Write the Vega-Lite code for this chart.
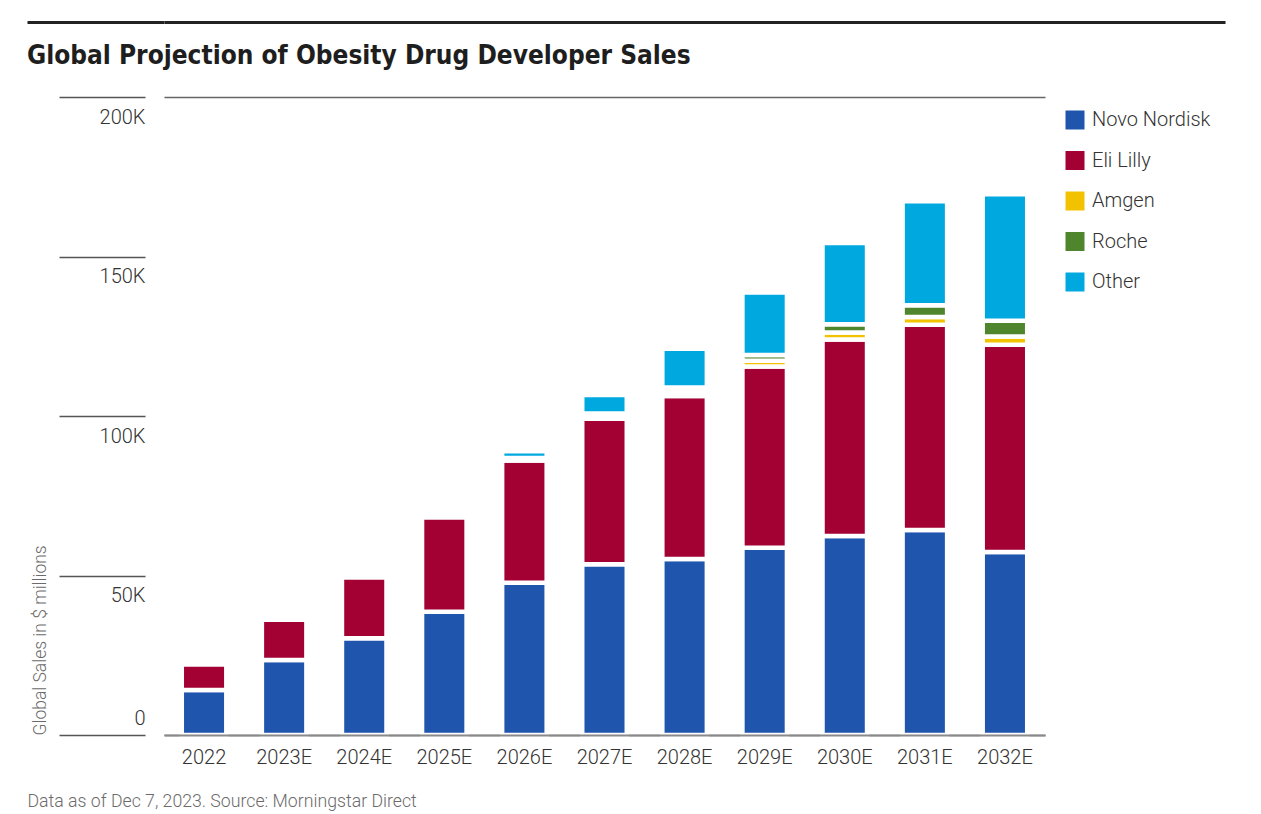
{
  "$schema": "https://vega.github.io/schema/vega-lite/v6.json",
  "background": "white",
  "padding": {"top": 19, "left": 25, "right": 5, "bottom": 5},
  "config": {
    "view": {"stroke": null},
    "font": "Roboto",
    "concat": {"spacing": 18}
  },
  "resolve": {"scale": {"color": "independent"}, "legend": {"color": "independent"}},
  "columns": 1,
  "align": "none",
  "concat": [
    {
      "data": {"values": [{"x": 0, "y": 1}]},
      "width": 1061,
      "height": 1,
      "mark": {"type": "point", "opacity": 0},
      "encoding": {
        "x": {"field": "x", "type": "quantitative",
          "axis": {"orient": "top", "domainColor": "#222222", "domainWidth": 3, "labels": false, "ticks": false, "grid": false, "title": null}},
        "y": {"field": "y", "type": "quantitative", "scale": {"domain": [0, 1], "nice": false},
          "axis": {"values": [1], "tickSize": 137, "tickWidth": 3, "tickColor": "#222222", "labels": false, "domain": false, "grid": false, "title": null}}
      }
    },
    {
      "title": {"text": "Global Projection of Obesity Drug Developer Sales", "anchor": "start", "fontSize": 26, "fontWeight": "bold", "color": "#1e1e1e", "baseline": "alphabetic", "offset": 6, "font": "DejaVu Sans Condensed, Roboto"},
      "width": 1062,
      "height": 638,
      "data": {"values": [
        {"year": "2022", "company": "Novo Nordisk", "order": 1, "sales": 14100},
        {"year": "2022", "company": "Eli Lilly", "order": 2, "sales": 8000},
        {"year": "2023E", "company": "Novo Nordisk", "order": 1, "sales": 23500},
        {"year": "2023E", "company": "Eli Lilly", "order": 2, "sales": 12600},
        {"year": "2024E", "company": "Novo Nordisk", "order": 1, "sales": 30300},
        {"year": "2024E", "company": "Eli Lilly", "order": 2, "sales": 19100},
        {"year": "2025E", "company": "Novo Nordisk", "order": 1, "sales": 38600},
        {"year": "2025E", "company": "Eli Lilly", "order": 2, "sales": 29600},
        {"year": "2026E", "company": "Novo Nordisk", "order": 1, "sales": 47750},
        {"year": "2026E", "company": "Eli Lilly", "order": 2, "sales": 38300},
        {"year": "2026E", "company": "Amgen", "order": 3, "sales": 350},
        {"year": "2026E", "company": "Roche", "order": 4, "sales": 400},
        {"year": "2026E", "company": "Other", "order": 5, "sales": 2150},
        {"year": "2027E", "company": "Novo Nordisk", "order": 1, "sales": 53500},
        {"year": "2027E", "company": "Eli Lilly", "order": 2, "sales": 45600},
        {"year": "2027E", "company": "Amgen", "order": 3, "sales": 800},
        {"year": "2027E", "company": "Roche", "order": 4, "sales": 900},
        {"year": "2027E", "company": "Other", "order": 5, "sales": 5800},
        {"year": "2028E", "company": "Novo Nordisk", "order": 1, "sales": 55200},
        {"year": "2028E", "company": "Eli Lilly", "order": 2, "sales": 51100},
        {"year": "2028E", "company": "Amgen", "order": 3, "sales": 1200},
        {"year": "2028E", "company": "Roche", "order": 4, "sales": 1400},
        {"year": "2028E", "company": "Other", "order": 5, "sales": 12150},
        {"year": "2029E", "company": "Novo Nordisk", "order": 1, "sales": 58700},
        {"year": "2029E", "company": "Eli Lilly", "order": 2, "sales": 56800},
        {"year": "2029E", "company": "Amgen", "order": 3, "sales": 1800},
        {"year": "2029E", "company": "Roche", "order": 4, "sales": 1800},
        {"year": "2029E", "company": "Other", "order": 5, "sales": 19600},
        {"year": "2030E", "company": "Novo Nordisk", "order": 1, "sales": 62400},
        {"year": "2030E", "company": "Eli Lilly", "order": 2, "sales": 61550},
        {"year": "2030E", "company": "Amgen", "order": 3, "sales": 2200},
        {"year": "2030E", "company": "Roche", "order": 4, "sales": 2600},
        {"year": "2030E", "company": "Other", "order": 5, "sales": 25450},
        {"year": "2031E", "company": "Novo Nordisk", "order": 1, "sales": 64300},
        {"year": "2031E", "company": "Eli Lilly", "order": 2, "sales": 64300},
        {"year": "2031E", "company": "Amgen", "order": 3, "sales": 2400},
        {"year": "2031E", "company": "Roche", "order": 4, "sales": 3700},
        {"year": "2031E", "company": "Other", "order": 5, "sales": 32600},
        {"year": "2032E", "company": "Novo Nordisk", "order": 1, "sales": 57400},
        {"year": "2032E", "company": "Eli Lilly", "order": 2, "sales": 64900},
        {"year": "2032E", "company": "Amgen", "order": 3, "sales": 2650},
        {"year": "2032E", "company": "Roche", "order": 4, "sales": 4900},
        {"year": "2032E", "company": "Other", "order": 5, "sales": 39700}
      ]},
      "mark": {"type": "bar", "stroke": "white", "strokeWidth": 4.5},
      "encoding": {
        "x": {"field": "year", "type": "nominal", "sort": null,
          "scale": {"range": [0, 881], "paddingInner": 0.444, "paddingOuter": 0.222},
          "axis": {"title": "Data as of Dec 7, 2023. Source: Morningstar Direct", "titleAnchor": "start", "titleAlign": "left", "titleX": -137, "titleY": 71, "titleBaseline": "alphabetic", "titleFontSize": 17.7, "titleFontWeight": 300, "titleColor": "#6b6b6b",
            "labelAngle": 0, "labelFontSize": 20, "labelFontWeight": 300, "labelColor": "#333333", "labelPadding": 12, "ticks": false, "domainColor": "#8a8a8a", "domainWidth": 2, "zindex": 1, "grid": false}},
        "y": {"field": "sales", "type": "quantitative", "stack": "zero",
          "scale": {"domain": [0, 200000], "nice": false},
          "axis": {"title": "Global Sales in $ millions", "titleColor": "#6b6b6b", "titleFontSize": 17.5, "titleFontWeight": 300, "titleAnchor": "start", "titlePadding": 9,
            "values": [0, 50000, 100000, 150000, 200000],
            "labelExpr": "datum.value == 0 ? '0' : (datum.value / 1000) + 'K'",
            "offset": 19, "tickSize": 86, "tickColor": "#555555", "tickWidth": 1.5, "domain": false,
            "labelPadding": -86, "labelAlign": "right",
            "labelBaseline": {"condition": {"test": "datum.value == 0", "value": "alphabetic"}, "value": "top"},
            "labelOffset": {"condition": {"test": "datum.value == 0", "value": -11}, "value": 10},
            "labelFontSize": 20, "labelFontWeight": 300, "labelColor": "#333333",
            "grid": true, "gridColor": "#666666", "gridWidth": 1.5, "gridDash": [881, 19, 162, 1000],
            "gridOpacity": {"condition": {"test": "datum.value == 0 || datum.value == 200000", "value": 1}, "value": 0}}},
        "order": {"field": "order", "type": "quantitative", "sort": "ascending"},
        "color": {"field": "company", "type": "nominal",
          "sort": ["Novo Nordisk", "Eli Lilly", "Amgen", "Roche", "Other"],
          "scale": {"domain": ["Novo Nordisk", "Eli Lilly", "Amgen", "Roche", "Other"], "range": ["#2055AE", "#A30034", "#F2C200", "#4F852D", "#00A8E0"]},
          "legend": {"orient": "none", "legendX": 901, "legendY": 13, "title": null, "symbolType": "square", "symbolSize": 361, "symbolStrokeWidth": 0, "symbolOpacity": 1, "labelFontSize": 20, "labelFontWeight": 300, "labelColor": "#333333", "labelOffset": 7, "rowPadding": 20.5, "padding": 0}}
      }
    }
  ]
}
